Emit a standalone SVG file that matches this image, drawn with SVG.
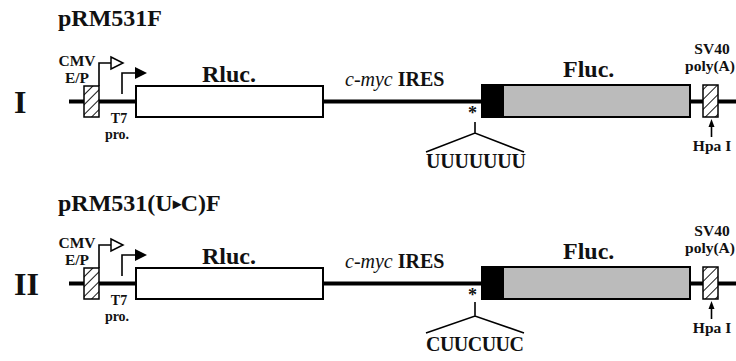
<svg xmlns="http://www.w3.org/2000/svg" width="736" height="361" viewBox="0 0 736 361">
  <defs>
    <pattern id="hatch" patternUnits="userSpaceOnUse" width="7" height="7" patternTransform="rotate(45)">
      <rect width="7" height="7" fill="#fff"/>
      <line x1="0" y1="0" x2="0" y2="7" stroke="#000" stroke-width="1.8"/>
    </pattern>
  </defs>
  <style>
    text { font-family: "Liberation Serif", "Times New Roman", serif; font-weight: bold; fill: #111; }
    .small { font-size: 15.5px; }
    .prom { font-size: 14px; }
    .gene { font-size: 24px; }
    .title { font-size: 24px; }
    .roman { font-size: 32px; }
    .seq { font-size: 20px; }
    .ires { font-size: 20px; }
    .mid { text-anchor: middle; }
    .backbone { stroke: #000; stroke-width: 4; fill: none; }
    .thin { stroke: #000; stroke-width: 1.6; fill: none; }
    .box { stroke: #000; stroke-width: 2; }
    .hatchbox { fill: url(#hatch); stroke: #000; stroke-width: 1.5; }
  </style>
  <rect width="736" height="361" fill="#fff"/>

  <!-- Construct I -->
  <g id="construct-1">
    <g id="connectors-1">
      <line class="backbone" x1="69" y1="101.5" x2="736" y2="101.5"/>
      <!-- CMV start arrow (open head) -->
      <path class="thin" d="M99 86 V63 H111"/>
      <polygon points="111,57 123,63 111,69" fill="#fff" stroke="#000" stroke-width="1.5"/>
      <!-- T7 start arrow (filled head) -->
      <path class="thin" d="M122 94 V73 H135"/>
      <polygon points="135,67 147,73 135,79" fill="#000"/>
      <!-- insertion point branch -->
      <path class="thin" d="M475 122 V133 M426 152 L475 133 L524 152"/>
      <!-- Hpa I site -->
      <line class="thin" x1="711.5" y1="137" x2="711.5" y2="125" stroke-width="1.2"/>
      <polygon points="711.5,119 708.5,127 714.5,127" fill="#000"/>
    </g>
    <g id="label-1">
      <text class="title" x="58" y="26">pRM531F</text>
      <text class="roman" x="14" y="113">I</text>
    </g>
    <g id="cmv-1">
      <rect class="hatchbox" x="84" y="86" width="15" height="31"/>
      <text class="small mid" x="77" y="66">CMV</text>
      <text class="small mid" x="77" y="83">E/P</text>
    </g>
    <g id="t7-1">
      <text class="prom mid" x="119" y="123">T7</text>
      <text class="prom mid" x="117" y="139">pro.</text>
    </g>
    <g id="rluc-1">
      <rect class="box" x="136" y="86" width="187" height="31" fill="#fff"/>
      <text class="gene" x="202" y="82">Rluc.</text>
    </g>
    <g id="ires-1">
      <text class="ires" x="345" y="86"><tspan font-style="italic" font-weight="normal">c-myc</tspan> IRES</text>
      <text x="468" y="119" font-size="18" font-weight="normal">*</text>
    </g>
    <g id="fluc-1">
      <rect x="482" y="85" width="22" height="32" fill="#000"/>
      <rect x="504" y="85" width="186" height="32" fill="#bbb"/>
      <rect class="box" x="482" y="85" width="208" height="32" fill="none"/>
      <text class="gene" x="563" y="77">Fluc.</text>
    </g>
    <g id="seq-1">
      <text class="seq" x="426" y="168" textLength="100">UUUUUUU</text>
    </g>
    <g id="sv40-1">
      <rect class="hatchbox" x="703" y="85" width="15" height="32"/>
      <text class="small mid" x="712" y="54">SV40</text>
      <text class="small mid" x="710" y="71">poly(A)</text>
      <text class="small mid" x="712" y="151">Hpa I</text>
    </g>
  </g>

  <!-- Construct II -->
  <g id="construct-2" transform="translate(0 182)">
    <g id="connectors-2">
      <line class="backbone" x1="69" y1="101.5" x2="736" y2="101.5"/>
      <path class="thin" d="M99 86 V63 H111"/>
      <polygon points="111,57 123,63 111,69" fill="#fff" stroke="#000" stroke-width="1.5"/>
      <path class="thin" d="M122 94 V73 H135"/>
      <polygon points="135,67 147,73 135,79" fill="#000"/>
      <path class="thin" d="M475 120 V134 M426 151 L475 134 L524 151"/>
      <line class="thin" x1="711.5" y1="137" x2="711.5" y2="125" stroke-width="1.2"/>
      <polygon points="711.5,119 708.5,127 714.5,127" fill="#000"/>
    </g>
    <g id="label-2">
      <text class="title" x="58" y="29">pRM531(U<tspan font-size="16" dy="-2">▸</tspan><tspan dy="2">C)F</tspan></text>
      <text class="roman" x="14" y="113">II</text>
    </g>
    <g id="cmv-2">
      <rect class="hatchbox" x="84" y="86" width="15" height="31"/>
      <text class="small mid" x="77" y="66">CMV</text>
      <text class="small mid" x="77" y="83">E/P</text>
    </g>
    <g id="t7-2">
      <text class="prom mid" x="119" y="123">T7</text>
      <text class="prom mid" x="117" y="139">pro.</text>
    </g>
    <g id="rluc-2">
      <rect class="box" x="136" y="86" width="187" height="31" fill="#fff"/>
      <text class="gene" x="202" y="82">Rluc.</text>
    </g>
    <g id="ires-2">
      <text class="ires" x="345" y="86"><tspan font-style="italic" font-weight="normal">c-myc</tspan> IRES</text>
      <text x="468" y="119" font-size="18" font-weight="normal">*</text>
    </g>
    <g id="fluc-2">
      <rect x="482" y="85" width="22" height="32" fill="#000"/>
      <rect x="504" y="85" width="186" height="32" fill="#bbb"/>
      <rect class="box" x="482" y="85" width="208" height="32" fill="none"/>
      <text class="gene" x="563" y="77">Fluc.</text>
    </g>
    <g id="seq-2">
      <text class="seq" x="426" y="169" textLength="98">CUUCUUC</text>
    </g>
    <g id="sv40-2">
      <rect class="hatchbox" x="703" y="85" width="15" height="32"/>
      <text class="small mid" x="712" y="54">SV40</text>
      <text class="small mid" x="710" y="71">poly(A)</text>
      <text class="small mid" x="712" y="151">Hpa I</text>
    </g>
  </g>
</svg>
